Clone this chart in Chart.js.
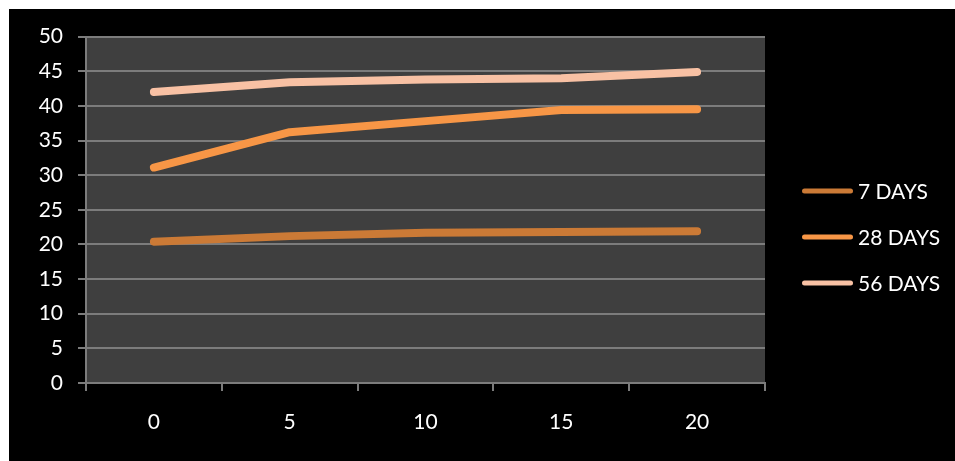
<!DOCTYPE html>
<html>
<head>
<meta charset="utf-8">
<script src="https://cdn.jsdelivr.net/npm/chart.js@4/dist/chart.umd.min.js"></script>
<style>
  html, body { margin: 0; padding: 0; background: #ffffff; width: 955px; height: 461px; overflow: hidden; }
  #wrap { position: absolute; left: 9px; top: 9px; width: 946px; height: 452px; background: #000000; }
  canvas { display: block; }
</style>
</head>
<body>
<div id="wrap"><canvas id="c" width="946" height="452"></canvas></div>
<script>
// ---- data ----
const categories = ['0', '5', '10', '15', '20'];
const seriesNames = ['7 DAYS', '28 DAYS', '56 DAYS'];
const days7  = [20.4, 21.2, 21.7, 21.8, 21.9];
const days28 = [31.1, 36.2, 37.8, 39.4, 39.5];
const days56 = [42.0, 43.4, 43.8, 44.0, 44.9];
const yTickValues = [0, 5, 10, 15, 20, 25, 30, 35, 40, 45, 50];

// ---- styles ----
const colors = ['#CB7A36', '#F79646', '#F8C1A4'];
const gridColor = '#7c7c7c';
const plotBg = '#3f3f3f';
const fontFamily = 'Lato, "Liberation Sans", sans-serif';
const fontSize = 21;

const plotBgPlugin = {
  id: 'plotBg',
  beforeDraw(chart) {
    const a = chart.chartArea, ctx = chart.ctx;
    ctx.save();
    ctx.fillStyle = plotBg;
    ctx.fillRect(a.left, a.top, a.right - a.left, a.bottom - a.top);
    ctx.restore();
  }
};

const sideLegend = {
  id: 'sideLegend',
  afterDraw(chart) {
    const ctx = chart.ctx;
    const x0 = 795.5, x1 = 841.5, tx = 849;
    const ys = [182, 228, 274];
    ctx.save();
    ctx.font = fontSize + 'px ' + fontFamily;
    ctx.textBaseline = 'middle';
    ctx.textAlign = 'left';
    chart.data.datasets.forEach((ds, i) => {
      const y = ys[i];
      ctx.strokeStyle = ds.borderColor;
      ctx.lineWidth = 5;
      ctx.lineCap = 'round';
      ctx.beginPath();
      ctx.moveTo(x0, y);
      ctx.lineTo(x1, y);
      ctx.stroke();
      ctx.fillStyle = '#ffffff';
      ctx.fillText(ds.label, tx, y + 1);
    });
    ctx.restore();
  }
};

const seriesData = [days7, days28, days56];

new Chart(document.getElementById('c'), {
  type: 'line',
  data: {
    labels: categories,
    datasets: seriesNames.map((name, i) => ({
      label: name,
      data: seriesData[i],
      borderColor: colors[i],
      backgroundColor: colors[i],
      borderWidth: 8,
      borderCapStyle: 'round',
      borderJoinStyle: 'round',
      pointRadius: 0,
      pointHoverRadius: 0,
      tension: 0,
      fill: false
    }))
  },
  options: {
    responsive: false,
    animation: false,
    devicePixelRatio: 1,
    layout: { padding: { top: 27, right: 190, bottom: 0, left: 0 } },
    plugins: {
      legend: { display: false },
      tooltip: { enabled: false }
    },
    scales: {
      x: {
        type: 'category',
        offset: true,
        grid: {
          display: true,
          offset: true,
          drawOnChartArea: false,
          drawTicks: true,
          tickLength: 8,
          color: gridColor,
          lineWidth: 2
        },
        border: { display: true, color: gridColor, width: 2 },
        ticks: {
          color: '#ffffff',
          font: { family: fontFamily, size: fontSize },
          padding: 19,
          maxRotation: 0
        },
        afterFit(scale) { scale.height = 78; }
      },
      y: {
        min: 0,
        max: 50,
        afterBuildTicks(scale) { scale.ticks = yTickValues.map(v => ({ value: v })); },
        grid: {
          display: true,
          drawOnChartArea: true,
          drawTicks: true,
          tickLength: 8,
          color: gridColor,
          lineWidth: 2
        },
        border: { display: true, color: gridColor, width: 2 },
        ticks: {
          color: '#ffffff',
          font: { family: fontFamily, size: fontSize },
          padding: 15
        },
        afterFit(scale) { scale.width = 77; }
      }
    }
  },
  plugins: [plotBgPlugin, sideLegend]
});
</script>
</body>
</html>
